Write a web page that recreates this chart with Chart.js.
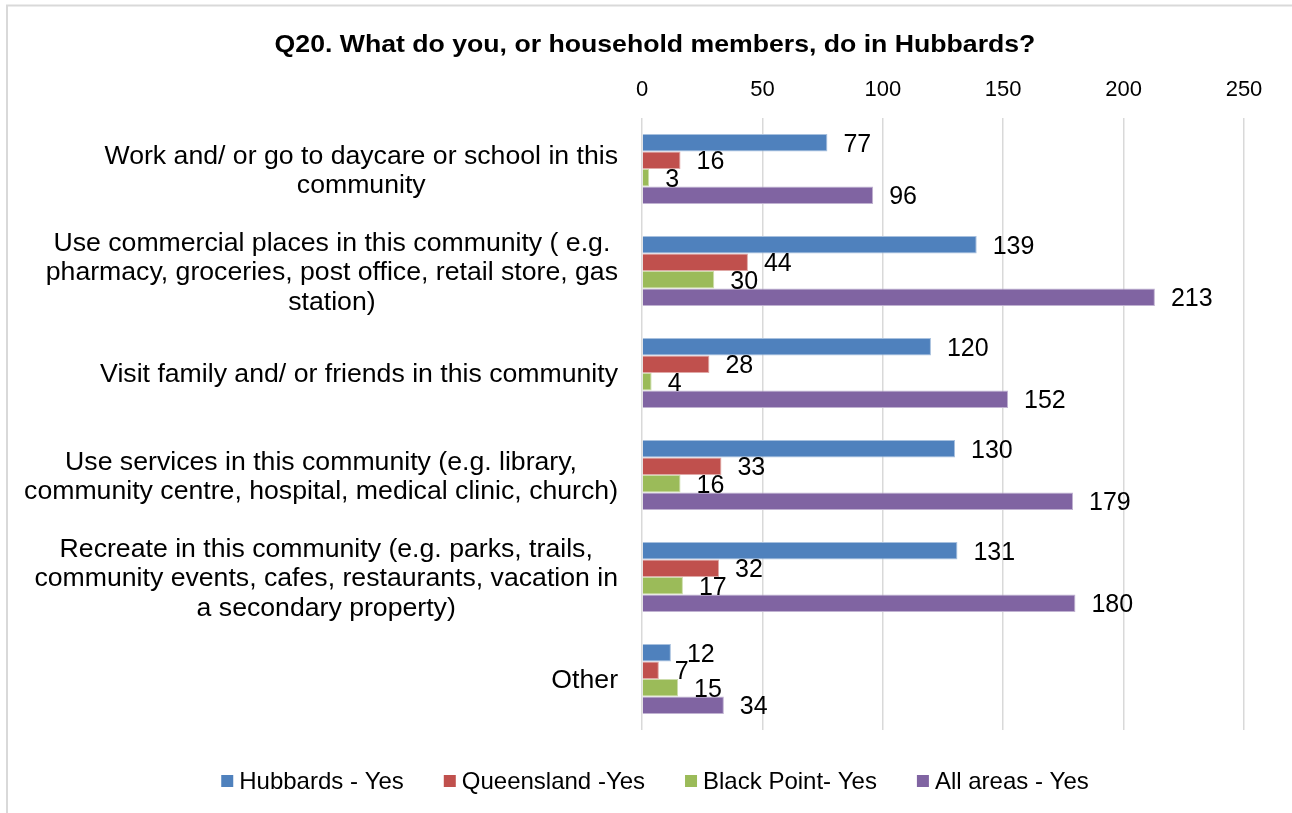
<!DOCTYPE html>
<html>
<head>
<meta charset="utf-8">
<script src="https://cdn.jsdelivr.net/npm/chart.js@4"></script>
<style>
  html, body { margin: 0; padding: 0; background: #ffffff; }
  canvas { display: block; }
</style>
</head>
<body>
<canvas id="chart" width="1292" height="813"></canvas>
<script>
// Survey question and answer categories (multi-line labels)
const titleText = 'Q20. What do you, or household members, do in Hubbards?';
const categories = [
  ['Work and/ or go to daycare or school in this', 'community'],
  ['Use commercial places in this community ( e.g.', 'pharmacy, groceries, post office, retail store, gas', 'station)'],
  ['Visit family and/ or friends in this community'],
  ['Use services in this community (e.g. library,', 'community centre, hospital, medical clinic, church)'],
  ['Recreate in this community (e.g. parks, trails,', 'community events, cafes, restaurants, vacation in', 'a secondary property)'],
  ['Other']
];
const seriesNames = ['Hubbards - Yes', 'Queensland -Yes', 'Black Point- Yes', 'All areas - Yes'];

// Counts of "Yes" answers per area
const hubbards   = [77, 139, 120, 130, 131, 12];
const queensland = [16, 44, 28, 33, 32, 7];
const blackPoint = [3, 30, 4, 16, 17, 15];
const allAreas   = [96, 213, 152, 179, 180, 34];

const xTicks = [0, 50, 100, 150, 200, 250];

const seriesColors  = ['#4F81BD', '#C0504D', '#9BBB59', '#8064A2'];
const seriesBorders = ['#A7C0DE', '#E0A8A6', '#CDDDAC', '#C0B2D1'];

const FAMILY = "'Liberation Sans', Arial, Helvetica, sans-serif";
const CENTER_X = 655;

function drawText(ctx, str, x, y, font, sx, align) {
  ctx.save();
  ctx.font = font;
  ctx.fillStyle = '#000000';
  ctx.textBaseline = 'alphabetic';
  ctx.textAlign = align;
  ctx.translate(x, y);
  ctx.scale(sx, 1);
  ctx.fillText(str, 0, 0);
  ctx.restore();
}

// White background and the light frame around the chart
const framePlugin = {
  id: 'frame',
  beforeDraw(chart) {
    const ctx = chart.ctx;
    ctx.save();
    ctx.fillStyle = '#ffffff';
    ctx.fillRect(0, 0, chart.width, chart.height);
    ctx.strokeStyle = '#D9D9D9';
    ctx.lineWidth = 2;
    ctx.strokeRect(7, 5.5, chart.width + 100, chart.height + 100);
    ctx.restore();
  }
};

// Title, axis labels, value labels and legend
const textPlugin = {
  id: 'texts',
  afterDraw(chart) {
    const ctx = chart.ctx;
    const xs = chart.scales.x;
    const ys = chart.scales.y;

    // title
    drawText(ctx, titleText, CENTER_X, 52, 'bold 24px ' + FAMILY, 1.11, 'center');

    // value axis tick labels (top)
    xTicks.forEach(v => {
      drawText(ctx, String(v), xs.getPixelForValue(v), 96, '22px ' + FAMILY, 1, 'center');
    });

    // category labels: block right-aligned, lines centred inside the block
    const catFont = '26px ' + FAMILY;
    const catSx = 1.025;
    const lineGap = 29.5;
    const rightEdge = 618;
    ctx.save();
    ctx.font = catFont;
    chart.data.labels.forEach((lines, i) => {
      const yc = ys.getPixelForValue(i);
      const blockW = Math.max(...lines.map(l => ctx.measureText(l).width)) * catSx;
      const cx = rightEdge - blockW / 2;
      lines.forEach((line, j) => {
        const ly = yc + (j - (lines.length - 1) / 2) * lineGap;
        drawText(ctx, line, cx, ly + 9.3, catFont, catSx, 'center');
      });
    });
    ctx.restore();

    // value labels at the end of each bar
    chart.data.datasets.forEach((ds, di) => {
      const meta = chart.getDatasetMeta(di);
      meta.data.forEach((bar, i) => {
        drawText(ctx, String(ds.data[i]), bar.x + 16, bar.y + 9, '25px ' + FAMILY, 1, 'left');
      });
    });

    // legend
    const legFont = '24px ' + FAMILY;
    const legSx = 1;
    const box = 12, boxGap = 6, itemGap = 40;
    ctx.save();
    ctx.font = legFont;
    const widths = chart.data.datasets.map(ds => ctx.measureText(ds.label).width * legSx);
    ctx.restore();
    const total = widths.reduce((a, w) => a + box + boxGap + w, 0) + itemGap * (widths.length - 1);
    let lx = CENTER_X - total / 2;
    chart.data.datasets.forEach((ds, di) => {
      ctx.save();
      ctx.fillStyle = ds.backgroundColor;
      ctx.fillRect(lx, 775, box, box);
      ctx.restore();
      drawText(ctx, ds.label, lx + box + boxGap, 789, legFont, legSx, 'left');
      lx += box + boxGap + widths[di] + itemGap;
    });
  }
};

const seriesValues = [hubbards, queensland, blackPoint, allAreas];

new Chart(document.getElementById('chart'), {
  type: 'bar',
  data: {
    labels: categories,
    datasets: seriesValues.map((vals, i) => ({
      label: seriesNames[i],
      data: vals,
      backgroundColor: seriesColors[i],
      borderColor: seriesBorders[i],
      borderWidth: 1,
      barPercentage: 1,
      categoryPercentage: 0.686
    }))
  },
  options: {
    indexAxis: 'y',
    responsive: false,
    animation: false,
    devicePixelRatio: 1,
    layout: { padding: { left: 642, top: 118, right: 48, bottom: 83 } },
    plugins: {
      legend: { display: false },
      title: { display: false },
      tooltip: { enabled: false }
    },
    scales: {
      x: {
        position: 'top',
        min: 0,
        max: 250,
        afterBuildTicks(scale) { scale.ticks = xTicks.map(v => ({ value: v })); },
        afterFit(scale) { scale.height = 0; },
        ticks: { display: false },
        grid: { color: '#D9D9D9', lineWidth: 1.5, drawTicks: false },
        border: { display: false }
      },
      y: {
        afterFit(scale) { scale.width = 0; },
        ticks: { display: false },
        grid: { display: false, drawTicks: false },
        border: { display: false }
      }
    }
  },
  plugins: [framePlugin, textPlugin]
});
</script>
</body>
</html>
